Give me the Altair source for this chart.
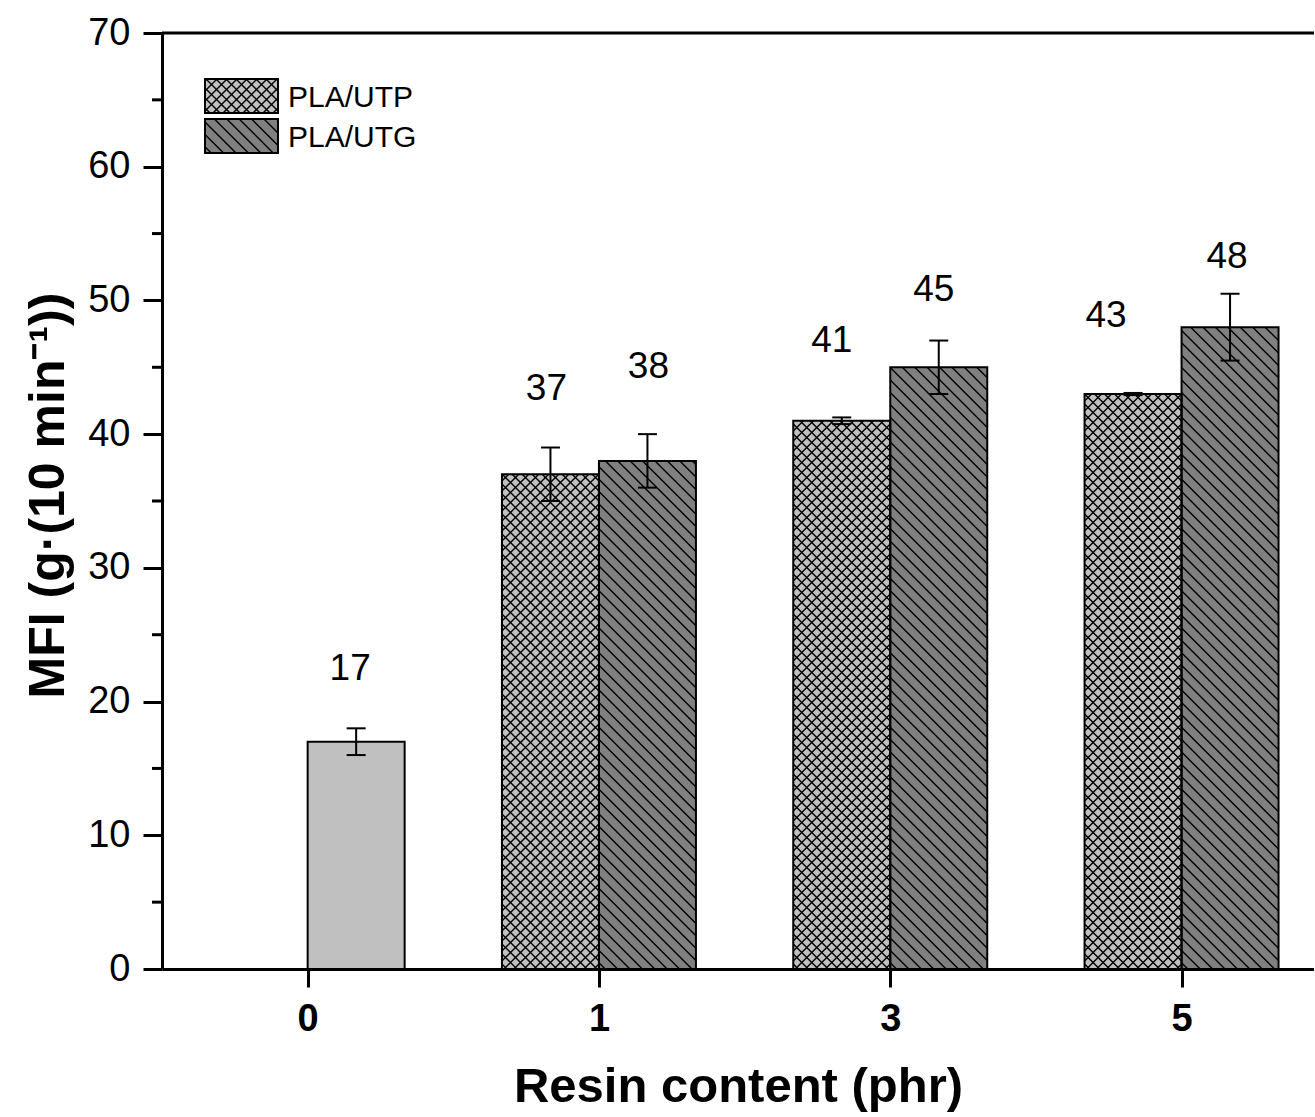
import json

import altair as alt
import pandas as pd

# ---------------------------------------------------------------- data
resin_ticks = ["0", "1", "3", "5"]
resin = ["0", "1", "1", "3", "3", "5", "5"]
sample = ["PLA", "PLA/UTP", "PLA/UTG", "PLA/UTP", "PLA/UTG", "PLA/UTP", "PLA/UTG"]
mfi = [17, 37, 38, 41, 45, 43, 48]
mfi_err = [1, 2, 2, 0.25, 2, 0.08, 2.5]
legend_items = ["PLA/UTP", "PLA/UTG"]
y_minor = [5, 15, 25, 35, 45, 55, 65]

# ---------------------------------------------------------------- layout / style
W, H = 1152, 936
PAD = {"left": 162, "top": 33, "right": 0, "bottom": 143}
Y_MAX = 70
X_MIN = -0.5
PX_PER_X = 291.3
X_MAX = X_MIN + W / PX_PER_X
PX_PER_Y = H / Y_MAX
BAR_W = 97 / PX_PER_X
CAP_W = 19 / PX_PER_X
FONT = "Liberation Sans, Arial, Helvetica, sans-serif"

SLOT = {"PLA": 0, "PLA/UTP": -1, "PLA/UTG": 0}
FILL = {"PLA": "#c0c0c0", "PLA/UTP": "#c0c0c0", "PLA/UTG": "#808080"}
# hatch families: direction and horizontal spacing in px
HATCH = {"PLA": [], "PLA/UTP": [("\\", 10.0), ("/", 10.0)], "PLA/UTG": [("\\", 12.4)]}
# hand-placed annotation offsets (px): horizontal shift, rise above bar top
LABEL_DX = [-6, -4, 1, -10, -5, -27, -3]
LABEL_RISE = [62, 74, 83, 69, 66, 67, 59]


def px_x(px):
    return X_MIN + px / PX_PER_X


def px_y(py):
    return Y_MAX - py / PX_PER_Y


def hatch_segments(x0, x1, y0, y1, families):
    """Diagonal line segments clipped to a rectangle given in data units."""
    w = (x1 - x0) * PX_PER_X
    h = (y1 - y0) * PX_PER_Y
    out = []
    for kind, step in families:
        segs = []
        if kind == "\\":  # runs down to the right: t = c - u
            c = step / 2
            while c < w + h:
                ua, ub = max(0.0, c - h), min(w, c)
                if ub > ua:
                    segs.append((ua, c - ua, ub, c - ub))
                c += step
        else:  # runs up to the right: t = u + c
            c = -w + step / 2
            while c < h:
                ua, ub = max(0.0, -c), min(w, h - c)
                if ub > ua:
                    segs.append((ua, ua + c, ub, ub + c))
                c += step
        for ua, ta, ub, tb in segs:
            out.append({
                "x": x0 + ua / PX_PER_X, "y": y0 + ta / PX_PER_Y,
                "x2": x0 + ub / PX_PER_X, "y2": y0 + tb / PX_PER_Y,
            })
    return out


# ---------------------------------------------------------------- tables
bars = pd.DataFrame({"resin": resin, "sample": sample, "mfi": mfi, "err": mfi_err})
bars["idx"] = bars["resin"].map({r: i for i, r in enumerate(resin_ticks)})
bars["x0"] = bars["idx"] + bars["sample"].map(SLOT) * BAR_W
bars["x1"] = bars["x0"] + BAR_W
bars["xc"] = (bars["x0"] + bars["x1"]) / 2
bars["fill"] = bars["sample"].map(FILL)
bars["lo"] = bars["mfi"] - bars["err"]
bars["hi"] = bars["mfi"] + bars["err"]
bars["lx"] = bars["xc"] + pd.Series(LABEL_DX) / PX_PER_X
bars["ly"] = bars["mfi"] + pd.Series(LABEL_RISE) / PX_PER_Y

caps = pd.concat([
    pd.DataFrame({"cl": bars["xc"] - CAP_W / 2, "cr": bars["xc"] + CAP_W / 2, "y": bars["hi"]}),
    pd.DataFrame({"cl": bars["xc"] - CAP_W / 2, "cr": bars["xc"] + CAP_W / 2, "y": bars["lo"]}),
])

# legend swatches (px box inside the plot area -> data units)
leg_rows = []
for i, name in enumerate(legend_items):
    top = 46 + i * 40
    leg_rows.append({
        "sample": name, "fill": FILL[name],
        "x0": px_x(43), "x1": px_x(116), "y0": px_y(top + 34), "y1": px_y(top),
        "tx": px_x(126), "ty": px_y(top + 28),
    })
legend = pd.DataFrame(leg_rows)

hatch_rows = []
for _, b in bars.iterrows():
    hatch_rows += hatch_segments(b["x0"], b["x1"], 0.0, b["mfi"], HATCH[b["sample"]])
for _, r in legend.iterrows():
    hatch_rows += hatch_segments(r["x0"], r["x1"], r["y0"], r["y1"], HATCH[r["sample"]])
hatch = pd.DataFrame(hatch_rows)

# ---------------------------------------------------------------- scales & axes
xscale = alt.Scale(domain=[X_MIN, X_MAX], nice=False, zero=False)
yscale = alt.Scale(domain=[0, Y_MAX], nice=False)

x_axis = alt.Axis(
    values=list(range(len(resin_ticks))),
    labelExpr=f"{json.dumps(resin_ticks)}[datum.value]",
    title="Resin content (phr)",
    titleFont=FONT, titleFontSize=49, titleFontWeight="bold", titleColor="black",
    titlePadding=24,
    labelFont=FONT, labelFontSize=38, labelFontWeight="bold", labelColor="black",
    labelPadding=13, labelFlush=False,
    tickSize=18, tickWidth=3, tickColor="black",
    domainWidth=3, domainColor="black", grid=False,
)
y_axis = alt.Axis(
    values=list(range(0, Y_MAX + 1, 10)),
    title="MFI (g·(10 min⁻¹))",
    titleFont=FONT, titleFontSize=50, titleFontWeight="bold", titleColor="black",
    titlePadding=14, titleY=H / 2 - 6,
    labelFont=FONT, labelFontSize=38, labelColor="black", labelPadding=13,
    labelFlush=False,
    tickSize=19, tickWidth=3, tickColor="black",
    domainWidth=3, domainColor="black", grid=False,
)


def X(field):
    return alt.X(field, type="quantitative", scale=xscale, axis=x_axis)


def Y(field):
    return alt.Y(field, type="quantitative", scale=yscale, axis=y_axis)


# ---------------------------------------------------------------- layers
bar_fill = alt.Chart(bars).mark_rect(strokeWidth=0).encode(
    x=X("x0"), x2="x1:Q",
    y=Y("mfi"), y2=alt.datum(0),
    fill=alt.Fill("fill:N", scale=None),
)

hatch_lines = alt.Chart(hatch).mark_rule(color="black", strokeWidth=1.4).encode(
    x=X("x"), x2="x2:Q", y=Y("y"), y2="y2:Q",
)

bar_outline = alt.Chart(bars).mark_rect(
    fill="white", fillOpacity=0, stroke="black", strokeWidth=2
).encode(
    x=X("x0"), x2="x1:Q", y=Y("mfi"), y2=alt.datum(0),
)

err_stem = alt.Chart(bars).mark_rule(color="black", strokeWidth=2).encode(
    x=X("xc"), y=Y("lo"), y2="hi:Q",
)

err_caps = alt.Chart(caps).mark_rule(color="black", strokeWidth=2).encode(
    x=X("cl"), x2="cr:Q", y=Y("y"),
)

value_labels = alt.Chart(bars).mark_text(
    font=FONT, fontSize=37, color="black", align="center", baseline="alphabetic"
).encode(
    x=X("lx"), y=Y("ly"),
    text=alt.Text("mfi:Q", format="d"),
)

frame = pd.DataFrame({"x0": [X_MIN], "x1": [X_MAX], "y": [Y_MAX]})
top_frame = alt.Chart(frame).mark_rule(color="black", strokeWidth=3).encode(
    x=X("x0"), x2="x1:Q", y=Y("y"),
)

minor_ticks = alt.Chart(pd.DataFrame({"v": y_minor})).mark_rule(
    color="black", strokeWidth=3
).encode(
    x=alt.value(-10), x2=alt.value(0), y=Y("v"),
)

legend_fill = alt.Chart(legend).mark_rect(strokeWidth=0).encode(
    x=X("x0"), x2="x1:Q", y=Y("y0"), y2="y1:Q",
    fill=alt.Fill("fill:N", scale=None),
)

legend_outline = alt.Chart(legend).mark_rect(
    fill="white", fillOpacity=0, stroke="black", strokeWidth=2
).encode(
    x=X("x0"), x2="x1:Q", y=Y("y0"), y2="y1:Q",
)

legend_text = alt.Chart(legend).mark_text(
    font=FONT, fontSize=30, color="black", align="left", baseline="alphabetic"
).encode(
    x=X("tx"), y=Y("ty"), text="sample:N",
)

chart = alt.layer(
    bar_fill, legend_fill, hatch_lines, bar_outline, legend_outline,
    err_stem, err_caps, value_labels, legend_text, top_frame, minor_ticks,
).properties(
    width=W, height=H, padding=PAD,
    autosize=alt.AutoSizeParams(type="none"),
    background="white",
).configure_view(stroke=None)

chart.save("out.html", embed_options={"renderer": "svg", "actions": False})
